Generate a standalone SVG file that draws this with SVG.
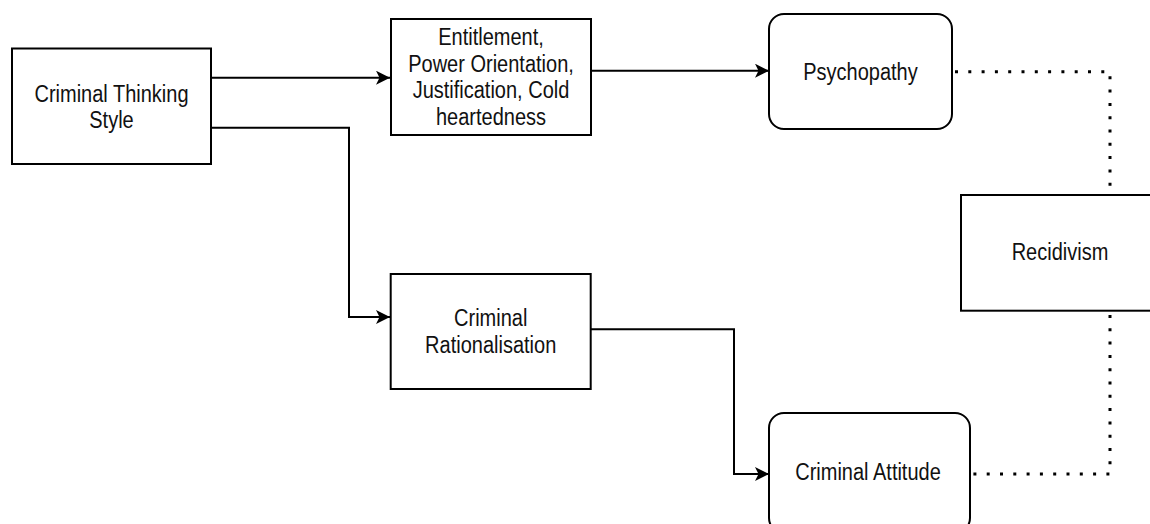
<svg xmlns="http://www.w3.org/2000/svg" width="1150" height="524" viewBox="0 0 1150 524">
<defs>
<style>
.box{fill:#fff;stroke:#000;stroke-width:2}
.lbl{font-family:"Liberation Sans",Arial,sans-serif;font-size:20px;fill:#111;text-anchor:middle}
.edge{fill:none;stroke:#000;stroke-width:2}
.dot{fill:none;stroke:#000;stroke-width:3;stroke-dasharray:3 10.3}
</style>
<marker id="arr" viewBox="0 0 14 14" refX="14" refY="7" markerWidth="14" markerHeight="14" markerUnits="userSpaceOnUse" orient="auto">
<path d="M0,0 L14,7 L0,14 L3.5,7 Z" fill="#000"/>
</marker>
</defs>
<rect width="1150" height="524" fill="#fff"/>
<g id="connectors">
<path class="edge" d="M211,77.7 H390" marker-end="url(#arr)"/>
<path class="edge" d="M207,127.7 H349 V317 H390" marker-end="url(#arr)"/>
<path class="edge" d="M591,70.7 H769" marker-end="url(#arr)"/>
<path class="edge" d="M591,329.3 H734 V474 H769" marker-end="url(#arr)"/>
<path class="dot" d="M955,71.7 H1110 V190"/>
<path class="dot" d="M1110,315 V474 H972"/>
</g>
<g id="node-cts">
<rect class="box" x="12" y="48.5" width="199" height="115.5"/>
<text class="lbl" transform="translate(111.5,101.7) scale(1,1.15)">Criminal Thinking</text>
<text class="lbl" transform="translate(111.5,128.3) scale(1,1.15)">Style</text>
</g>
<g id="node-ent">
<rect class="box" x="391" y="19" width="200" height="116"/>
<text class="lbl" transform="translate(491,45) scale(1,1.15)">Entitlement,</text>
<text class="lbl" transform="translate(491,71.7) scale(1,1.15)">Power Orientation,</text>
<text class="lbl" transform="translate(491,98.3) scale(1,1.15)">Justification, Cold</text>
<text class="lbl" transform="translate(491,125) scale(1,1.15)">heartedness</text>
</g>
<g id="node-psy">
<rect class="box" x="769" y="14" width="183" height="115" rx="15" ry="15"/>
<text class="lbl" transform="translate(860.5,80) scale(1,1.15)">Psychopathy</text>
</g>
<g id="node-rec">
<rect class="box" x="961" y="195" width="200" height="115.7"/>
<text class="lbl" transform="translate(1060,260) scale(1,1.15)">Recidivism</text>
</g>
<g id="node-rat">
<rect class="box" x="390.7" y="274" width="200" height="115"/>
<text class="lbl" transform="translate(490.7,325.7) scale(1,1.15)">Criminal</text>
<text class="lbl" transform="translate(490.7,352.7) scale(1,1.15)">Rationalisation</text>
</g>
<g id="node-att">
<rect class="box" x="769" y="413" width="201" height="120" rx="15" ry="15"/>
<text class="lbl" transform="translate(868,480) scale(1,1.15)">Criminal Attitude</text>
</g>
</svg>
